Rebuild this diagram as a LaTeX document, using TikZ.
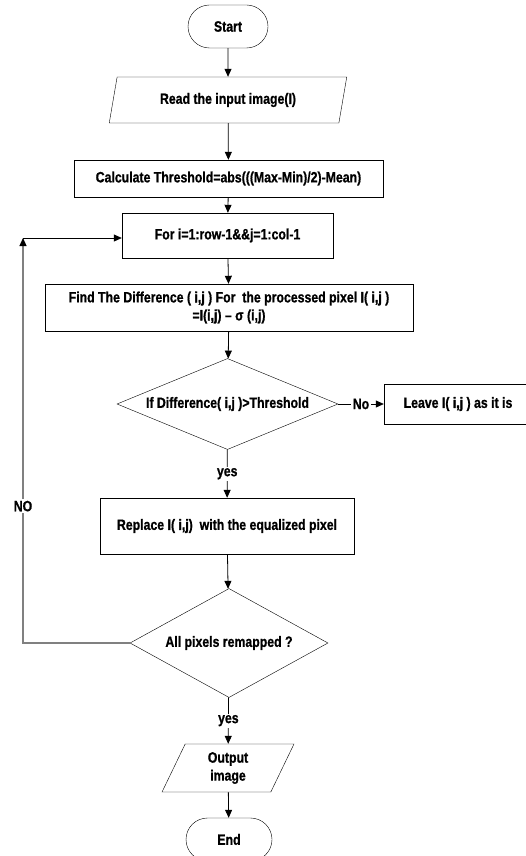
\documentclass[tikz,border=0pt]{standalone}
\usepackage{fontspec}
\setmainfont{Liberation Sans}[FakeStretch=0.82,FakeBold=0.8]
\newfontfamily\xboldfam{Liberation Sans}[FakeStretch=0.82,FakeBold=2.4]
\newcommand{\xb}[1]{{\xboldfam\bfseries #1}}
\usetikzlibrary{shapes.geometric,shapes.misc,arrows.meta}
\begin{document}
\begin{tikzpicture}[x=1pt,y=-1pt,
  every node/.style={font=\fontsize{15}{18}\selectfont\bfseries, align=center, inner sep=0pt},
  term/.style={draw, rounded rectangle, minimum width=#1, minimum height=43},
  procbox/.style={draw, rectangle},
  iobox/.style={draw, trapezium, trapezium left angle=71, trapezium right angle=109, trapezium stretches=true},
  decbox/.style={draw, diamond, aspect=2.2},
  flow/.style={line width=0.8pt, -{Triangle[length=8pt,width=7pt]}},
  lbl/.style={fill=white, inner sep=1.5pt}
]
\useasboundingbox (0,0) rectangle (526,856);
\node[term=80] (start) at (228,26.5) {Start};
\node[iobox, minimum width=238, minimum height=46] (read) at (228,100) {Read the input image(\xb{I})};
\node[procbox, minimum width=309, minimum height=37] (calc) at (228.5,178.5) {Calculate Threshold=abs(((Max-Min)/2)-Mean)};
\node[procbox, minimum width=211, minimum height=45] (for) at (227.5,235.5) {For i=1:row-1\&\&j=1:col-1};
\node[procbox, minimum width=368, minimum height=47] (find) at (229,307.5) {Find The Difference ( \xb{i,j} ) For \ the processed pixel \xb{I}( \xb{i,j} )\\=\xb{I}(\xb{i,j}) – σ (i,j)};
\node[decbox, minimum width=221, minimum height=91] (dec1) at (227.5,404) {If Difference( \xb{i,j} )>Threshold};
\node[procbox, minimum width=148, minimum height=40] (leave) at (458,404) {Leave \xb{I}( \xb{i,j} ) as it is};
\node[procbox, minimum width=254, minimum height=56] (replace) at (227,526) {Replace \xb{I}( \xb{i,j})\ \ with the equalized pixel};
\node[decbox, minimum width=198, minimum height=109] (dec2) at (229,643) {All pixels remapped ?};
\node[iobox, minimum width=132, minimum height=48] (output) at (228,768) {Output\\image};
\node[term=86] (end) at (229,839.5) {End};
\coordinate (loopA) at (23,643);
\coordinate (loopB) at (23,238);
\draw[flow] (start) -- (read);
\draw[flow] (read) -- (calc);
\draw[flow] (calc) -- (for);
\draw[flow] (for) -- (find);
\draw[flow] (find) -- (dec1);
\draw[flow] (dec1) -- node[lbl] {No} (leave);
\draw[flow] (dec1) -- node[lbl] {yes} (replace);
\draw[flow] (replace) -- (dec2);
\draw[flow] (dec2) -- node[lbl] {yes} (output);
\draw[flow] (output) -- (end);
\draw[flow, draw=black!50, line width=1.2pt, -{Triangle[length=8pt,width=7pt,color=black]}] (dec2.west) -- (loopA) -- node[lbl, pos=0.338] {NO} (loopB);
\draw[flow] (loopB) -- (for.west |- loopB);
\end{tikzpicture}
\end{document}
